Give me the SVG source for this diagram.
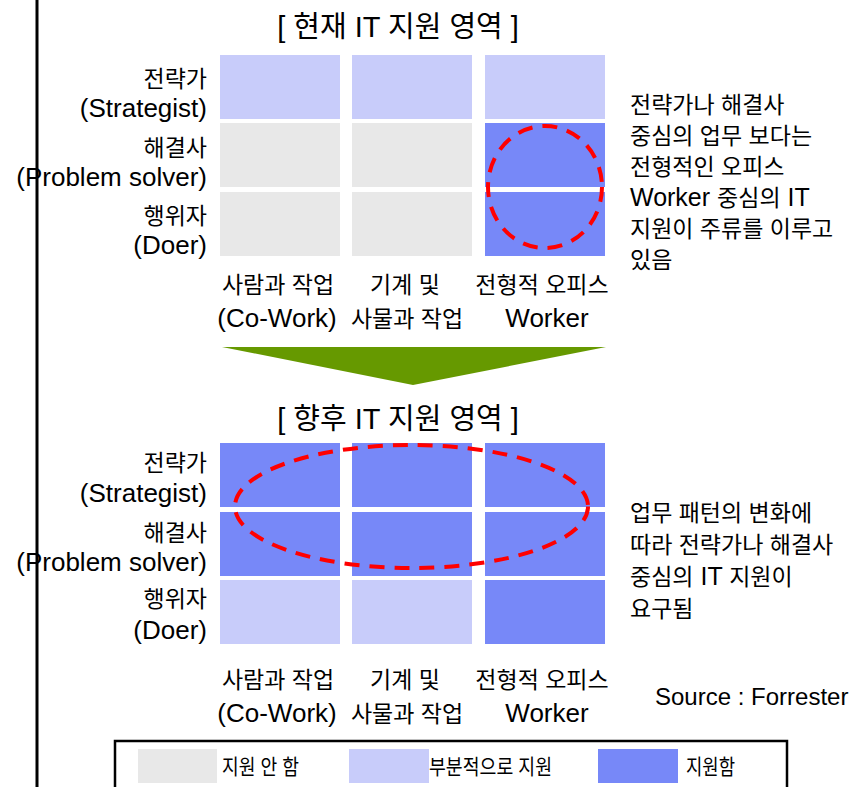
<svg xmlns="http://www.w3.org/2000/svg" width="849" height="787" viewBox="0 0 849 787">
<style>
text{font-family:"Liberation Sans","Noto Sans CJK KR",Arial,sans-serif;fill:#000}
.k{font-size:23px}
.e{font-size:26px}
.t{font-size:29px}
.src{font-size:24px}
.end{text-anchor:end}
.mid{text-anchor:middle}
.g{fill:#E8E8E8}
.l{fill:#C8CCFA}
.b{fill:#7788F8}
.dash{fill:none;stroke:#FF0000;stroke-width:4;stroke-dasharray:15 10}
.lg{font-size:21px}
</style>
<rect width="849" height="787" fill="#FFFFFF"/>
<line x1="37" y1="0" x2="37" y2="787" stroke="#000" stroke-width="3"/>

<g id="current-title"><text class="t mid" x="398" y="37">[ 현재 IT 지원 영역 ]</text></g>

<g id="current-grid">
<rect class="l" x="220" y="55" width="120" height="64"/>
<rect class="l" x="352" y="55" width="120" height="64"/>
<rect class="l" x="485" y="55" width="120" height="64"/>
<rect class="g" x="220" y="123" width="120" height="64"/>
<rect class="g" x="352" y="123" width="120" height="64"/>
<rect class="b" x="485" y="123" width="120" height="64"/>
<rect class="g" x="220" y="192" width="120" height="64"/>
<rect class="g" x="352" y="192" width="120" height="64"/>
<rect class="b" x="485" y="192" width="120" height="64"/>
</g>
<g id="current-highlight"><ellipse class="dash" cx="545" cy="187" rx="57" ry="61"/></g>

<g id="current-row-labels">
<text class="k end" x="207" y="87">전략가</text>
<text class="e end" x="207" y="117">(Strategist)</text>
<text class="k end" x="207" y="156">해결사</text>
<text class="e end" x="207" y="186">(Problem solver)</text>
<text class="k end" x="207" y="224">행위자</text>
<text class="e end" x="207" y="254">(Doer)</text>
</g>

<g id="current-col-labels">
<text class="k mid" x="278" y="293">사람과 작업</text>
<text class="e mid" x="277" y="327">(Co-Work)</text>
<text class="k mid" x="405" y="293">기계 및</text>
<text class="k mid" x="407" y="327">사물과 작업</text>
<text class="k mid" x="542" y="293">전형적 오피스</text>
<text class="e mid" x="547" y="327">Worker</text>
</g>

<g id="current-note">
<text class="k" x="630" y="113">전략가나 해결사</text>
<text class="k" x="630" y="144">중심의 업무 보다는</text>
<text class="k" x="630" y="175">전형적인 오피스</text>
<text class="k" x="630" y="206"><tspan style="font-size:25px">Worker </tspan>중심의<tspan style="font-size:25px"> IT</tspan></text>
<text class="k" x="630" y="237">지원이 주류를 이루고</text>
<text class="k" x="630" y="268">있음</text>
</g>

<g id="connectors">
<polygon points="222,347 606,347 413,385" fill="#669900"/>
</g>

<g id="future-title"><text class="t mid" x="398" y="429">[ 향후 IT 지원 영역 ]</text></g>

<g id="future-grid">
<rect class="b" x="220" y="443" width="120" height="64"/>
<rect class="b" x="352" y="443" width="120" height="64"/>
<rect class="b" x="485" y="443" width="120" height="64"/>
<rect class="b" x="220" y="512" width="120" height="64"/>
<rect class="b" x="352" y="512" width="120" height="64"/>
<rect class="b" x="485" y="512" width="120" height="64"/>
<rect class="l" x="220" y="580" width="120" height="64"/>
<rect class="l" x="352" y="580" width="120" height="64"/>
<rect class="b" x="485" y="580" width="120" height="64"/>
</g>
<g id="future-highlight"><ellipse class="dash" cx="411.5" cy="506.5" rx="176.5" ry="61.5"/></g>

<g id="future-row-labels">
<text class="k end" x="207" y="471">전략가</text>
<text class="e end" x="207" y="502">(Strategist)</text>
<text class="k end" x="207" y="541">해결사</text>
<text class="e end" x="207" y="571">(Problem solver)</text>
<text class="k end" x="207" y="607">행위자</text>
<text class="e end" x="207" y="639">(Doer)</text>
</g>

<g id="future-col-labels">
<text class="k mid" x="278" y="688">사람과 작업</text>
<text class="e mid" x="277" y="722">(Co-Work)</text>
<text class="k mid" x="405" y="688">기계 및</text>
<text class="k mid" x="407" y="722">사물과 작업</text>
<text class="k mid" x="542" y="688">전형적 오피스</text>
<text class="e mid" x="547" y="722">Worker</text>
</g>

<g id="future-note">
<text class="k" x="630" y="521">업무 패턴의 변화에</text>
<text class="k" x="630" y="553">따라 전략가나 해결사</text>
<text class="k" x="630" y="585">중심의<tspan style="font-size:25px"> IT </tspan>지원이</text>
<text class="k" x="630" y="617">요구됨</text>
</g>

<g id="source"><text class="src" x="655" y="705">Source : Forrester</text></g>

<g id="legend">
<rect x="115" y="741" width="672" height="60" fill="#FFFFFF" stroke="#000" stroke-width="2.5"/>
<rect class="g" x="138" y="749" width="79" height="34"/>
<text class="lg" x="222" y="774" textLength="77" lengthAdjust="spacingAndGlyphs">지원 안 함</text>
<rect class="l" x="349" y="749" width="80" height="34"/>
<text class="lg" x="429" y="774" textLength="123" lengthAdjust="spacingAndGlyphs">부분적으로 지원</text>
<rect class="b" x="598" y="749" width="80" height="34"/>
<text class="lg" x="686" y="774" textLength="49" lengthAdjust="spacingAndGlyphs">지원함</text>
</g>
</svg>
